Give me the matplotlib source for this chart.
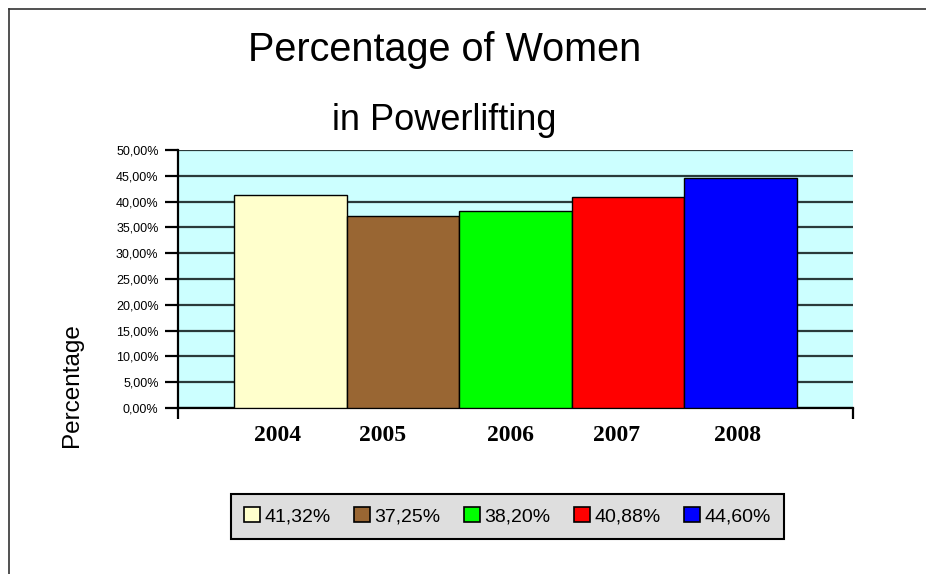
import matplotlib
matplotlib.use("Agg")
import matplotlib.pyplot as plt
import matplotlib.transforms as mtransforms
from matplotlib.lines import Line2D
from matplotlib.ticker import FuncFormatter, MultipleLocator

years = ["2004", "2005", "2006", "2007", "2008"]
values = [41.32, 37.25, 38.20, 40.88, 44.60]
colors = ["#ffffcc", "#996633", "#00ff00", "#ff0000", "#0000ff"]
legend_labels = [f"{v:.2f}".replace(".", ",") + "%" for v in values]

# small horizontal nudges (pixels) of the category labels, as in the original layout
label_nudges_px = [-13, -20, -5, -11, -3]

W, H = 926, 574
fig = plt.figure(figsize=(W / 100, H / 100), dpi=100)
fig.patch.set_facecolor("white")

def fx(px):
    return px / W

def fy(py):
    return 1 - py / H

ax = fig.add_axes([fx(178), fy(408), (853 - 178) / W, (408 - 150) / H])
ax.set_facecolor("#ccffff")

x = list(range(len(years)))
ax.bar(x, values, width=1.0, color=colors, edgecolor="black", linewidth=1.0, zorder=3)

ax.set_xlim(-1, 5)
ax.set_ylim(0, 50)
ax.yaxis.set_major_locator(MultipleLocator(5))
ax.yaxis.set_major_formatter(FuncFormatter(lambda v, p: f"{v:.2f}".replace(".", ",") + "%"))
ax.grid(axis="y", color="#2a3a3a", linewidth=1.6, zorder=1)
ax.set_axisbelow(True)

for s in ["top", "right"]:
    ax.spines[s].set_visible(False)
ax.spines["left"].set_linewidth(1.6)
ax.spines["bottom"].set_linewidth(1.6)

ax.tick_params(axis="y", direction="out", length=9.5, width=1.6, pad=4.5,
               labelsize=9, colors="black")
for t in ax.get_yticklabels():
    t.set_family("Liberation Sans")

ax.set_xticks(x)
ax.set_xticklabels(years, fontsize=17, fontweight="bold", family="Liberation Serif")
ax.tick_params(axis="x", which="major", length=0, pad=12)
ax.set_xticks([-1, 5], minor=True)
ax.tick_params(axis="x", which="minor", direction="out", length=8, width=1.6)

for t, dx in zip(ax.get_xticklabels(), label_nudges_px):
    t.set_transform(t.get_transform() + mtransforms.ScaledTranslation(dx / 100, 0, fig.dpi_scale_trans))

fig.text(fx(445), fy(50), "Percentage of Women", ha="center", va="center",
         fontsize=28.5, family="Liberation Sans")
fig.text(fx(444), fy(120), "in Powerlifting", ha="center", va="center",
         fontsize=26, family="Liberation Sans")
fig.text(fx(72), fy(385), "Percentage", ha="center", va="center", rotation=90,
         fontsize=17.5, family="Liberation Sans")

handles = [plt.Rectangle((0, 0), 1, 1, facecolor=c, edgecolor="black", linewidth=1.2) for c in colors]
leg = fig.legend(handles, legend_labels, loc="center", bbox_to_anchor=(fx(507.5), fy(516.5)),
                 ncol=5, frameon=True, fancybox=False, shadow=False,
                 prop={"family": "Liberation Sans", "size": 14},
                 handlelength=0.8, handleheight=0.8, handletextpad=0.25,
                 columnspacing=1.2, borderpad=0.7, borderaxespad=0)
frame = leg.get_frame()
frame.set_facecolor("#dedede")
frame.set_edgecolor("black")
frame.set_linewidth(1.5)
frame.set_alpha(1)

fig.add_artist(Line2D([fx(9), 1], [fy(9), fy(9)], color="#333333", linewidth=1.2))
fig.add_artist(Line2D([fx(9), fx(9)], [fy(9), 0], color="#333333", linewidth=1.2))

fig.savefig("out.png", dpi=100)
